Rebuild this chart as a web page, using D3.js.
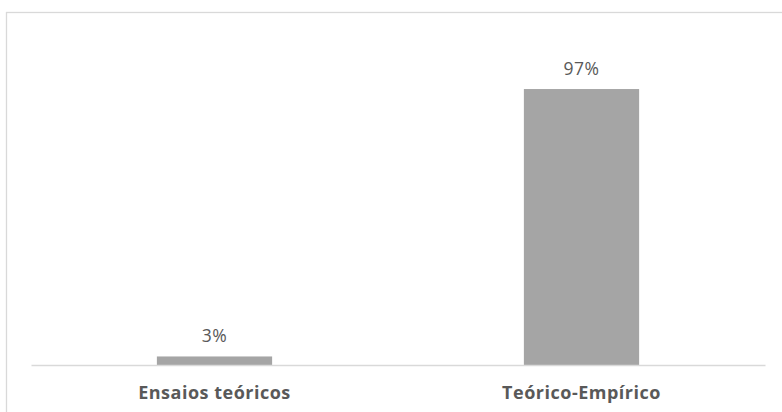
<!DOCTYPE html>
<html>
<head>
<meta charset="utf-8">
<script src="https://cdn.jsdelivr.net/npm/d3@7"></script>
<style>
  html, body { margin: 0; padding: 0; background: #fff; }
  svg { display: block; }
</style>
</head>
<body>
<svg id="chart" width="782" height="412"></svg>
<script>
// Study types and their share of the sample (percent)
const categories = ["Ensaios teóricos", "Teórico-Empírico"];
const shares = [3, 97];
const valueLabels = ["3%", "97%"];

const svg = d3.select("#chart");
const W = 782, H = 412;
const margin = { left: 31, right: 17, top: 80.5, bottom: 47 };
const baseY = H - margin.bottom;

// Chart frame (extends past the right and bottom edges)
svg.append("rect")
  .attr("x", 6.5).attr("y", 12.5)
  .attr("width", W + 10).attr("height", H + 10)
  .attr("fill", "none")
  .attr("stroke", "#d9d9d9")
  .attr("stroke-width", 1.3);

const x = d3.scaleBand()
  .domain(categories)
  .range([margin.left, W - margin.right])
  .paddingInner(0.686)
  .paddingOuter(0.343);

const y = d3.scaleLinear()
  .domain([0, 100])
  .range([baseY, margin.top]);

const data = categories.map((c, i) => ({ cat: c, v: shares[i], label: valueLabels[i] }));

// Bars
svg.selectAll("rect.bar")
  .data(data)
  .join("rect")
  .attr("class", "bar")
  .attr("x", d => x(d.cat))
  .attr("y", d => y(d.v))
  .attr("width", x.bandwidth())
  .attr("height", d => baseY - y(d.v))
  .attr("fill", "#a5a5a5");

// Category axis
const axis = svg.append("g")
  .attr("transform", `translate(0,${baseY})`)
  .call(d3.axisBottom(x).tickSize(0).tickPadding(0));
axis.select(".domain").attr("stroke", "#d9d9d9").attr("stroke-width", 1.3);
axis.selectAll(".tick text")
  .attr("dy", null)
  .attr("y", 34)
  .attr("font-family", "'Open Sans', sans-serif")
  .attr("font-weight", "bold")
  .attr("font-size", 18)
  .attr("letter-spacing", 0.5)
  .attr("fill", "#595959");

// Value labels
svg.selectAll("text.val")
  .data(data)
  .join("text")
  .attr("class", "val")
  .attr("x", d => x(d.cat) + x.bandwidth() / 2)
  .attr("y", d => y(d.v) - 14)
  .attr("text-anchor", "middle")
  .attr("font-family", "'Open Sans', sans-serif")
  .attr("font-size", 17.5)
  .attr("letter-spacing", 0.5)
  .attr("fill", "#595959")
  .text(d => d.label);
</script>
</body>
</html>
